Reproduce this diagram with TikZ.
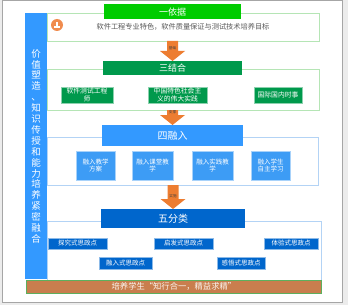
\documentclass[tikz,border=0pt]{standalone}
\usepackage{fontspec}
\setmainfont{Noto Sans CJK SC}
\usetikzlibrary{positioning, calc}

\definecolor{pagegray}{HTML}{ECECEC}
\definecolor{basisgreen}{HTML}{00CC00}
\definecolor{unitegreen}{HTML}{00994C}
\definecolor{framegreen}{HTML}{B5E5B5}
\definecolor{barblue}{HTML}{3399FF}
\definecolor{fuseblue}{HTML}{3D9CF5}
\definecolor{sortblue}{HTML}{0066CC}
\definecolor{frameblue}{HTML}{B3D3F5}
\definecolor{flowora}{HTML}{ED7D31}
\definecolor{goalbrown}{HTML}{C97E4E}
\definecolor{goalgreen}{HTML}{5DAF5D}
\definecolor{iconora}{HTML}{F08C4E}

\tikzset{
  secframe/.style={draw=#1, line width=0.9pt, inner sep=0pt, outer sep=0pt, anchor=north west},
  header/.style={fill=#1, text=white, inner sep=0pt, outer sep=0pt, anchor=north west, font=\fontsize{9}{10}\selectfont},
  itembox/.style={fill=#1, draw=#1!45!white, line width=0.6pt, text=white, inner sep=0pt, outer sep=0pt, anchor=north west, align=center, font=\fontsize{6.5}{7.6}\selectfont},
  flowlabel/.style={font=\fontsize{3.6}{4}\selectfont, text=black!75, inner sep=0pt},
}

% block arrow from frame bottom down to the next header
\newcommand{\flowdown}[3]{%
  \fill[flowora] ($(#1)+(-5.5,0)$) -- ($(#1)+(5.5,0)$) -- ($(#2)+(5.5,-10)$) -- ($(#2)+(12.5,-10)$)
    -- (#2) -- ($(#2)+(-12.5,-10)$) -- ($(#2)+(-5.5,-10)$) -- cycle;
  \node[flowlabel] at ($(#2)+(0,-13)$) {#3};
}

\begin{document}
\begin{tikzpicture}[x=1pt, y=-1pt]
    % Page
    \fill[pagegray] (0,0) rectangle (348,305);
    \useasboundingbox (0,0) rectangle (348,305);
    \filldraw[fill=white, draw=black!35, line width=0.8pt] (2,0.5) rectangle (342,302);

    % Section frames
    \node (f1) [secframe=framegreen, minimum width=272pt, minimum height=28pt] at (47,13) {};
    \node (f2) [secframe=framegreen, minimum width=272pt, minimum height=41pt] at (47,69) {};
    \node (f3) [secframe=frameblue, minimum width=271pt, minimum height=48pt] at (47,137) {};
    \node (f4) [secframe=frameblue, minimum width=274pt, minimum height=59pt] at (47,221) {};

    % Left bar
    \node (vbar) [fill=barblue, minimum width=22pt, minimum height=266pt, anchor=north west, inner sep=0pt,
        text=white, align=center, font=\fontsize{9.5}{10.9}\selectfont] at (25,13)
        {价\\值\\塑\\造\\、\\知\\识\\传\\授\\和\\能\\力\\培\\养\\紧\\密\\融\\合};

    % Headers
    \node (h1) [header=basisgreen, minimum width=137pt, minimum height=14.5pt] at (104,4.5) {一依据};
    \node (h2) [header=unitegreen, minimum width=139pt, minimum height=14pt] at (103,61) {三结合};
    \node (h3) [header=barblue, minimum width=141pt, minimum height=21pt, font=\fontsize{10}{12}\selectfont] at (102,125) {四融入};
    \node (h4) [header=sortblue, minimum width=144pt, minimum height=19pt, font=\fontsize{10}{12}\selectfont] at (101,209) {五分类};

    % Basis
    \node (icon) [circle, fill=iconora, minimum size=12pt, inner sep=0pt] at (57,25) {};
    \fill[white] ($(icon.center)+(-3,1.2)$) rectangle ($(icon.center)+(3,2.8)$);
    \fill[white] ($(icon.center)+(-0.7,-3)$) rectangle ($(icon.center)+(0.7,1.2)$);
    \node (aim) [font=\fontsize{7.2}{8}\selectfont, text=black!65] at (183,27) {软件工程专业特色，软件质量保证与测试技术培养目标};

    % Three combinations
    \node (c1) [itembox=unitegreen, minimum width=52pt, minimum height=16pt, font=\fontsize{6.8}{7.6}\selectfont] at (61,87) {软件测试工程\\师};
    \node (c2) [itembox=unitegreen, minimum width=59pt, minimum height=16pt, font=\fontsize{6.8}{7.6}\selectfont] at (148,87) {中国特色社会主\\义的伟大实践};
    \node (c3) [itembox=unitegreen, minimum width=48pt, minimum height=16pt, font=\fontsize{6.8}{7.6}\selectfont] at (254,87) {国际国内时事};

    % Four integrations
    \node (t1) [itembox=fuseblue, minimum width=39pt, minimum height=29pt] at (76,151) {融入教学\\方案};
    \node (t2) [itembox=fuseblue, minimum width=41pt, minimum height=29pt, right=17pt of t1] {融入课堂教\\学};
    \node (t3) [itembox=fuseblue, minimum width=41pt, minimum height=29pt, right=19pt of t2] {融入实践教\\学};
    \node (t4) [itembox=fuseblue, minimum width=39pt, minimum height=29pt, right=18pt of t3] {融入学生\\自主学习};

    % Five categories
    \node (p1) [itembox=sortblue, minimum width=59pt, minimum height=11pt] at (48,238) {探究式思政点};
    \node (p2) [itembox=sortblue, minimum width=59pt, minimum height=11pt] at (154,238) {启发式思政点};
    \node (p3) [itembox=sortblue, minimum width=54pt, minimum height=11pt] at (264,238) {体验式思政点};
    \node (p4) [itembox=sortblue, minimum width=53pt, minimum height=12pt] at (99,257) {融入式思政点};
    \node (p5) [itembox=sortblue, minimum width=48pt, minimum height=12pt] at (217,257) {感悟式思政点};

    % Goal
    \node (goal) [fill=goalbrown, draw=goalgreen, line width=0.8pt, minimum width=295pt, minimum height=13pt,
        anchor=north west, inner sep=0pt, text=white!92!goalbrown, font=\fontsize{8.3}{9}\selectfont] at (26,280)
        {培养学生“知行合一，精益求精”};

    % Flow arrows
    \flowdown{f1.south -| h2.north}{h2.north}{基础}
    \flowdown{f2.south -| h3.north}{h3.north}{支撑}
    \flowdown{f3.south -| h4.north}{h4.north}{实施}
\end{tikzpicture}
\end{document}
